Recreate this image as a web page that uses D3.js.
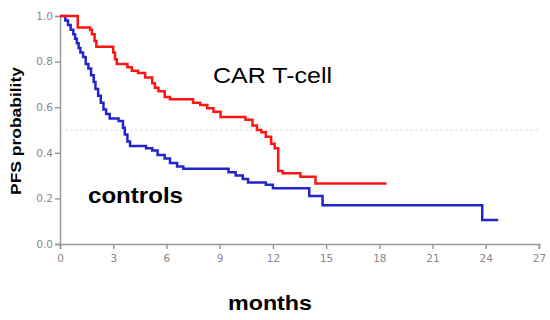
<!DOCTYPE html>
<html>
<head>
<meta charset="utf-8">
<script src="https://cdn.jsdelivr.net/npm/d3@7"></script>
<style>
  body { margin: 0; background: #fff; }
</style>
</head>
<body>
<div id="km-chart"></div>
<script>
// Kaplan-Meier steps: event time (months) -> PFS probability after it
const carMonths = [0, 1.0, 1.7, 1.8, 1.95, 2.05, 3.0, 3.1, 3.2, 3.8, 4.05, 4.4, 4.8, 5.2, 5.35, 5.55, 5.9, 6.2,
  7.5, 7.9, 8.3, 8.65, 9.05, 10.45, 10.85, 11.1, 11.35, 11.6, 11.9, 12.1, 12.3, 12.55, 13.55, 14.4, 18.4];
const carProb = [1.0, 0.95, 0.94, 0.92, 0.89, 0.865, 0.84, 0.81, 0.79, 0.775, 0.76, 0.75, 0.73, 0.705, 0.685, 0.67, 0.645, 0.635,
  0.62, 0.61, 0.595, 0.58, 0.557, 0.545, 0.52, 0.5, 0.49, 0.47, 0.44, 0.42, 0.32, 0.31, 0.295, 0.265, 0.265];

const ctrlMonths = [0, 0.3, 0.45, 0.6, 0.75, 0.85, 0.95, 1.05, 1.15, 1.3, 1.45, 1.6, 1.75, 1.9, 2.0, 2.15, 2.3, 2.45,
  2.6, 2.8, 3.3, 3.55, 3.65, 3.8, 3.95, 4.85, 5.2, 5.5, 5.9, 6.2, 6.6, 6.95, 9.5, 9.9, 10.3, 10.6, 11.6, 12.0,
  14.05, 14.8, 23.8, 24.7];
const ctrlProb = [1.0, 0.98, 0.96, 0.94, 0.92, 0.90, 0.88, 0.86, 0.84, 0.82, 0.79, 0.77, 0.74, 0.71, 0.68, 0.65, 0.62, 0.59,
  0.57, 0.55, 0.54, 0.51, 0.48, 0.45, 0.43, 0.42, 0.41, 0.39, 0.375, 0.355, 0.34, 0.33, 0.315, 0.30, 0.285, 0.27, 0.26, 0.245,
  0.21, 0.17, 0.105, 0.105];

const xTicks = [0, 3, 6, 9, 12, 15, 18, 21, 24, 27];
const yTicks = [0, 0.2, 0.4, 0.6, 0.8, 1.0];
const medianLine = 0.5;

const width = 550;
const height = 320;
const margin = { top: 16, right: 11, bottom: 76, left: 60 };

const svg = d3.select("#km-chart")
  .append("svg")
  .attr("width", width)
  .attr("height", height);

const x = d3.scaleLinear()
  .domain([0, 27])
  .range([margin.left, width - margin.right]);

const y = d3.scaleLinear()
  .domain([0, 1])
  .range([height - margin.bottom, margin.top]);

// dashed 0.5 reference
svg.append("line")
  .attr("x1", x(0))
  .attr("x2", x(27))
  .attr("y1", y(medianLine))
  .attr("y2", y(medianLine))
  .attr("stroke", "#ddd")
  .attr("stroke-width", 1)
  .attr("stroke-dasharray", "3,2");

const xAxis = svg.append("g")
  .attr("transform", `translate(0,${y(0)})`)
  .call(d3.axisBottom(x).tickValues(xTicks).tickFormat(d3.format("d")).tickSizeOuter(0).tickSize(5));

const yAxis = svg.append("g")
  .attr("transform", `translate(${x(0)},0)`)
  .call(d3.axisLeft(y).tickValues(yTicks).tickFormat(d3.format(".1f")).tickSizeOuter(0).tickSize(5));

[xAxis, yAxis].forEach(g => {
  g.select(".domain").attr("stroke", "#999").attr("stroke-width", 1.5);
  g.selectAll(".tick line").attr("stroke", "#999").attr("stroke-width", 1.5);
  g.selectAll(".tick text")
    .attr("fill", "#888")
    .attr("font-family", "DejaVu Sans")
    .attr("font-size", 10.5);
});
xAxis.selectAll(".tick text").attr("dy", "0.95em");
yAxis.selectAll(".tick text").attr("x", -7);

const line = d3.line()
  .x(d => x(d[0]))
  .y(d => y(d[1]))
  .curve(d3.curveStepAfter);

const series = [
  { months: ctrlMonths, prob: ctrlProb, color: "#2424cc" },
  { months: carMonths, prob: carProb, color: "#ff1414" }
];

svg.append("g")
  .selectAll("path")
  .data(series)
  .join("path")
  .attr("d", s => line(s.months.map((m, i) => [m, s.prob[i]])))
  .attr("fill", "none")
  .attr("stroke", s => s.color)
  .attr("stroke-width", 2.5);

// labels
svg.append("text")
  .attr("x", 213)
  .attr("y", 83)
  .attr("font-family", "Liberation Sans, Arial, sans-serif")
  .attr("font-size", 22)
  .attr("textLength", 119)
  .attr("lengthAdjust", "spacingAndGlyphs")
  .text("CAR T-cell");

svg.append("text")
  .attr("x", 88)
  .attr("y", 203)
  .attr("font-family", "Liberation Sans, Arial, sans-serif")
  .attr("font-size", 22)
  .attr("font-weight", "bold")
  .attr("textLength", 95)
  .attr("lengthAdjust", "spacingAndGlyphs")
  .text("controls");

svg.append("text")
  .attr("x", 228)
  .attr("y", 310)
  .attr("font-family", "Liberation Sans, Arial, sans-serif")
  .attr("font-size", 20)
  .attr("font-weight", "bold")
  .attr("textLength", 84)
  .attr("lengthAdjust", "spacingAndGlyphs")
  .text("months");

svg.append("text")
  .attr("transform", "translate(21,195) rotate(-90)")
  .attr("font-family", "Liberation Sans, Arial, sans-serif")
  .attr("font-size", 14)
  .attr("font-weight", "bold")
  .attr("textLength", 128)
  .attr("lengthAdjust", "spacingAndGlyphs")
  .text("PFS probability");
</script>
</body>
</html>
